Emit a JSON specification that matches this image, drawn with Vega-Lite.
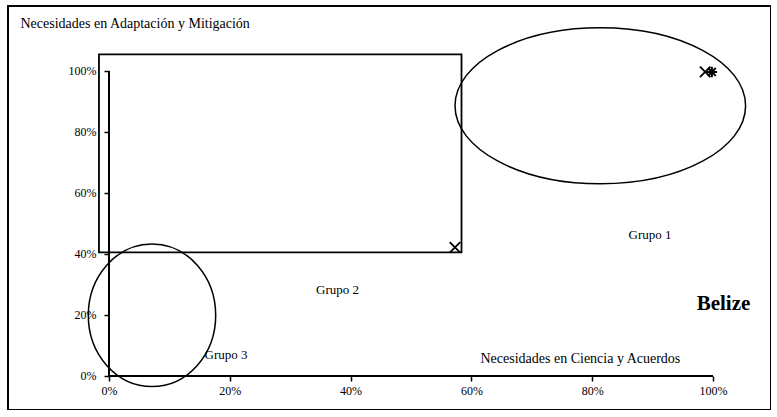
{
  "$schema": "https://vega.github.io/schema/vega-lite/v6.json",
  "width": 763,
  "height": 404,
  "autosize": {"type": "none"},
  "padding": {"left": 8, "top": 6, "right": 0, "bottom": 0},
  "background": "white",
  "config": {
    "view": {"stroke": "black", "strokeWidth": 2},
    "font": "Liberation Serif"
  },
  "datasets": {
    "ellipse1": [{"x": 0.8134, "y": 0.886}],
    "ellipse3": [{"x": 0.0712, "y": 0.199}],
    "box": [{"x": -0.0166, "x2": 0.5836, "y": 0.405, "y2": 1.0548}],
    "xaxis": [{"x": 0, "x2": 1, "y": 0}],
    "yaxis": [{"x": 0, "y": 0, "y2": 1}],
    "xmarks": [{"x": 0.987, "y": 0.997}, {"x": 0.5728, "y": 0.422}],
    "stars": [{"x": 0.998, "y": 0.997}],
    "labels": [
      {"text": "Grupo 1", "x": 0.8957, "y": 0.449},
      {"text": "Grupo 2", "x": 0.3783, "y": 0.269},
      {"text": "Grupo 3", "x": 0.1937, "y": 0.0557}
    ],
    "country": [{"text": "Belize", "x": 1.0174, "y": 0.2164}]
  },
  "encoding": {
    "x": {
      "field": "x",
      "type": "quantitative",
      "scale": {"domain": [-0.1672, 1.096], "nice": false, "zero": false},
      "axis": {
        "orient": "bottom",
        "offset": -34,
        "values": [0, 0.2, 0.4, 0.6, 0.8, 1],
        "format": ".0%",
        "domain": false,
        "grid": false,
        "tickSize": 5,
        "tickWidth": 1.5,
        "tickColor": "black",
        "labelFont": "Liberation Serif",
        "labelFontSize": 12,
        "labelColor": "black",
        "labelPadding": 4,
        "title": "Necesidades en Ciencia y Acuerdos",
        "titleFont": "Liberation Serif",
        "titleFontSize": 14,
        "titleFontWeight": "normal",
        "titleColor": "black",
        "titleAlign": "left",
        "titleBaseline": "alphabetic",
        "titleX": 472,
        "titleY": -14
      }
    },
    "y": {
      "field": "y",
      "type": "quantitative",
      "scale": {"domain": [-0.1115, 1.2131], "nice": false, "zero": false},
      "axis": {
        "orient": "left",
        "offset": -101,
        "values": [0, 0.2, 0.4, 0.6, 0.8, 1],
        "format": ".0%",
        "domain": false,
        "grid": false,
        "tickSize": 5,
        "tickWidth": 1.5,
        "tickColor": "black",
        "labelFont": "Liberation Serif",
        "labelFontSize": 12,
        "labelColor": "black",
        "labelPadding": 8,
        "title": "Necesidades en Adaptación y Mitigación",
        "titleFont": "Liberation Serif",
        "titleFontSize": 14,
        "titleFontWeight": "normal",
        "titleColor": "black",
        "titleAngle": 0,
        "titleAlign": "left",
        "titleBaseline": "alphabetic",
        "titleX": -89,
        "titleY": 21
      }
    }
  },
  "layer": [
    {
      "data": {"name": "box"},
      "mark": {"type": "rect", "fill": null, "fillOpacity": 0, "stroke": "black", "strokeWidth": 1.8},
      "encoding": {"x2": {"field": "x2"}, "y2": {"field": "y2"}}
    },
    {
      "data": {"name": "xaxis"},
      "mark": {"type": "rule", "stroke": "black", "strokeWidth": 2},
      "encoding": {"x2": {"field": "x2"}}
    },
    {
      "data": {"name": "yaxis"},
      "mark": {"type": "rule", "stroke": "black", "strokeWidth": 2},
      "encoding": {"y2": {"field": "y2"}}
    },
    {
      "data": {"name": "ellipse1"},
      "mark": {
        "type": "point",
        "filled": false,
        "stroke": "black",
        "strokeWidth": 1.5,
        "opacity": 1,
        "size": 84448,
        "shape": "M 1 0 C 1 0.2966 0.5523 0.537 0 0.537 C -0.5523 0.537 -1 0.2966 -1 0 C -1 -0.2966 -0.5523 -0.537 0 -0.537 C 0.5523 -0.537 1 -0.2966 1 0 Z"
      }
    },
    {
      "data": {"name": "ellipse3"},
      "mark": {
        "type": "point",
        "filled": false,
        "stroke": "black",
        "strokeWidth": 1.5,
        "opacity": 1,
        "size": 20335,
        "shape": "M 0.8934 0 C 0.8934 0.5523 0.4934 1 0 1 C -0.4934 1 -0.8934 0.5523 -0.8934 0 C -0.8934 -0.5523 -0.4934 -1 0 -1 C 0.4934 -1 0.8934 -0.5523 0.8934 0 Z"
      }
    },
    {
      "data": {"name": "xmarks"},
      "mark": {
        "type": "point",
        "filled": false,
        "stroke": "black",
        "strokeWidth": 1.8,
        "opacity": 1,
        "size": 110,
        "shape": "M -1 -1 L 1 1 M -1 1 L 1 -1"
      }
    },
    {
      "data": {"name": "stars"},
      "mark": {
        "type": "point",
        "filled": false,
        "stroke": "black",
        "strokeWidth": 2,
        "opacity": 1,
        "size": 110,
        "shape": "M -1 0 L 1 0 M 0 -1 L 0 1 M -0.75 -0.75 L 0.75 0.75 M -0.75 0.75 L 0.75 -0.75"
      }
    },
    {
      "data": {"name": "labels"},
      "mark": {"type": "text", "font": "Liberation Serif", "fontSize": 13, "color": "black", "align": "center", "baseline": "alphabetic"},
      "encoding": {"text": {"field": "text"}}
    },
    {
      "data": {"name": "country"},
      "mark": {"type": "text", "font": "Liberation Serif", "fontSize": 21, "fontWeight": "bold", "color": "black", "align": "center", "baseline": "alphabetic"},
      "encoding": {"text": {"field": "text"}}
    }
  ]
}
